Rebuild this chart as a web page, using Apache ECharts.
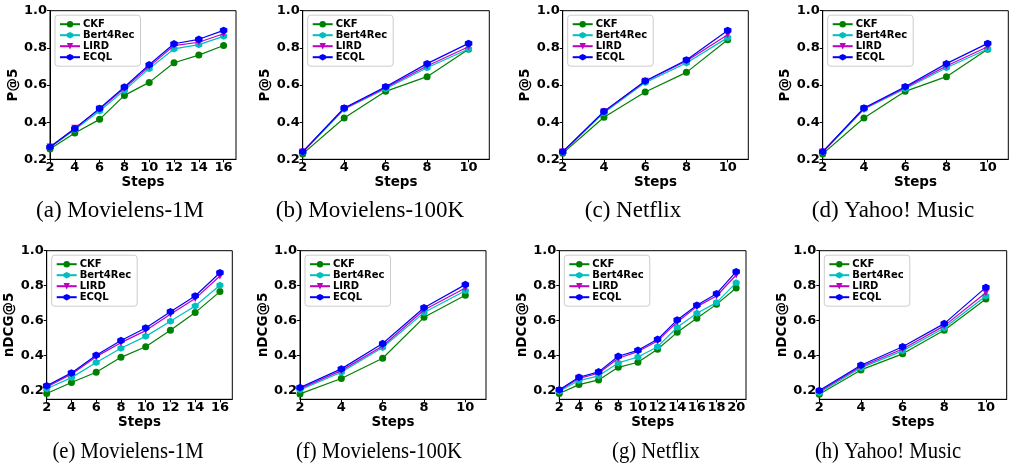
<!DOCTYPE html>
<html>
<head>
<meta charset="utf-8">
<script src="https://cdn.jsdelivr.net/npm/echarts@6.0.0/dist/echarts.min.js"></script>
<style>
  html, body { margin: 0; padding: 0; background: #fff; }
  #chart { width: 1009px; height: 465px; }
</style>
</head>
<body>
<div id="chart"></div>
<script>
// method names and x steps
const methods = ["CKF", "Bert4Rec", "LIRD", "ECQL"];
const steps16 = [2, 4, 6, 8, 10, 12, 14, 16];
const steps10 = [2, 4, 6, 8, 10];
const steps20 = [2, 4, 6, 8, 10, 12, 14, 16, 18, 20];
const yTicksTop = [0.2, 0.4, 0.6, 0.8, 1.0];
const yTicksBottom = [0.2, 0.4, 0.6, 0.8, 1.0];

// P@5, rows: CKF, Bert4Rec, LIRD, ECQL
const p5Ml1m = [
  [0.256, 0.342, 0.415, 0.544, 0.614, 0.720, 0.761, 0.813],
  [0.263, 0.361, 0.460, 0.571, 0.688, 0.794, 0.817, 0.862],
  [0.266, 0.367, 0.471, 0.582, 0.699, 0.812, 0.830, 0.876],
  [0.266, 0.365, 0.474, 0.589, 0.709, 0.822, 0.846, 0.894]
];
const p5Ml100k = [
  [0.229, 0.422, 0.566, 0.645, 0.792],
  [0.238, 0.469, 0.580, 0.693, 0.794],
  [0.239, 0.473, 0.586, 0.702, 0.806],
  [0.241, 0.476, 0.591, 0.715, 0.824]
];
const p5Netflix = [
  [0.232, 0.426, 0.562, 0.668, 0.844],
  [0.238, 0.451, 0.613, 0.718, 0.855],
  [0.239, 0.456, 0.620, 0.729, 0.871],
  [0.241, 0.458, 0.622, 0.735, 0.894]
];
const p5Yahoo = [
  [0.229, 0.422, 0.566, 0.645, 0.792],
  [0.238, 0.469, 0.580, 0.693, 0.794],
  [0.239, 0.473, 0.586, 0.702, 0.806],
  [0.241, 0.476, 0.591, 0.715, 0.824]
];

// nDCG@5
const ndcgMl1m = [
  [0.183, 0.246, 0.305, 0.390, 0.451, 0.545, 0.646, 0.766],
  [0.210, 0.274, 0.360, 0.442, 0.510, 0.596, 0.684, 0.802],
  [0.221, 0.293, 0.394, 0.474, 0.543, 0.636, 0.726, 0.855],
  [0.227, 0.301, 0.402, 0.486, 0.558, 0.651, 0.741, 0.874]
];
const ndcgMl100k = [
  [0.181, 0.269, 0.385, 0.619, 0.745],
  [0.204, 0.305, 0.446, 0.646, 0.771],
  [0.210, 0.314, 0.455, 0.661, 0.787],
  [0.217, 0.324, 0.469, 0.674, 0.806]
];
const ndcgNetflix = [
  [0.183, 0.234, 0.261, 0.333, 0.362, 0.436, 0.533, 0.613, 0.693, 0.787],
  [0.196, 0.257, 0.284, 0.358, 0.392, 0.451, 0.562, 0.642, 0.703, 0.817],
  [0.200, 0.270, 0.299, 0.385, 0.423, 0.484, 0.592, 0.680, 0.741, 0.861],
  [0.204, 0.276, 0.307, 0.396, 0.430, 0.493, 0.604, 0.688, 0.754, 0.880]
];
const ndcgYahoo = [
  [0.179, 0.318, 0.410, 0.545, 0.724],
  [0.187, 0.330, 0.427, 0.558, 0.741],
  [0.194, 0.337, 0.438, 0.570, 0.760],
  [0.200, 0.345, 0.451, 0.583, 0.790]
];

const captions = [
  "(a) Movielens-1M", "(b) Movielens-100K", "(c) Netflix", "(d) Yahoo! Music",
  "(e) Movielens-1M", "(f) Movielens-100K", "(g) Netflix", "(h) Yahoo! Music"
];

const panels = [
  { steps: steps16, data: p5Ml1m, metric: "P@5" },
  { steps: steps10, data: p5Ml100k, metric: "P@5" },
  { steps: steps10, data: p5Netflix, metric: "P@5" },
  { steps: steps10, data: p5Yahoo, metric: "P@5" },
  { steps: steps16, data: ndcgMl1m, metric: "nDCG@5" },
  { steps: steps10, data: ndcgMl100k, metric: "nDCG@5" },
  { steps: steps20, data: ndcgNetflix, metric: "nDCG@5" },
  { steps: steps10, data: ndcgYahoo, metric: "nDCG@5" }
];

// layout (pixels)
const gridLeft = [50, 302.7, 562.7, 822.7, 46.7, 300, 559.3, 819.3];
const gridRight = [236, 489.3, 748.3, 1008.3, 232.3, 486, 746, 1006.7];
const rowTop = [10.7, 250.7];
const plotH = 148.6;
const captionX = [120, 370, 633, 893, 128, 379, 656, 888];
const captionY = [211, 452];

const colors = ["#008000", "#00bfbf", "#bf00bf", "#0000ff"];
const hexagon = "path://M0,-1L0.866,-0.5L0.866,0.5L0,1L-0.866,0.5L-0.866,-0.5Z";
const symbols = ["circle", hexagon, "triangle", hexagon];
const symbolSizes = [7, 7, 7, 7.5];
const symbolRotate = [0, 0, 180, 0];

const tickFont = { fontFamily: "DejaVu Sans", fontWeight: "bold", fontSize: 13, color: "#000" };
const nameFont = { fontFamily: "DejaVu Sans", fontWeight: "bold", fontSize: 13.5, color: "#000" };

const grids = [], xAxes = [], yAxes = [], legends = [], series = [], graphics = [];

panels.forEach((p, i) => {
  const row = i < 4 ? 0 : 1;
  const lastStep = p.steps[p.steps.length - 1];
  grids.push({
    left: gridLeft[i], top: rowTop[row],
    width: gridRight[i] - gridLeft[i], height: plotH,
    show: true, borderColor: "#000", borderWidth: 1, backgroundColor: "transparent"
  });
  xAxes.push({
    type: "value", gridIndex: i, min: 2, max: lastStep + 1,
    name: "Steps", nameLocation: "middle", nameGap: 16, nameTextStyle: nameFont,
    axisLine: { lineStyle: { color: "#000", width: 1 } },
    axisTick: { show: true, length: 3, lineStyle: { color: "#000" }, customValues: p.steps },
    axisLabel: Object.assign({ margin: 2, customValues: p.steps }, tickFont),
    splitLine: { show: false }
  });
  const yt = row === 0 ? yTicksTop : yTicksBottom;
  yAxes.push({
    type: "value", gridIndex: i, min: row === 0 ? 0.2 : 0.15, max: 1.0,
    name: p.metric, nameLocation: "middle", nameGap: row === 0 ? 26 : 25, nameTextStyle: nameFont,
    axisLine: { show: true, lineStyle: { color: "#000", width: 1 } },
    axisTick: { show: true, length: 3, lineStyle: { color: "#000" }, customValues: yt },
    axisLabel: Object.assign({ margin: 3, customValues: yt, formatter: v => v.toFixed(1) }, tickFont),
    splitLine: { show: false }
  });
  legends.push({
    data: methods, orient: "vertical",
    left: gridLeft[i] + 5, top: rowTop[row] + 4.5,
    itemWidth: 20, itemHeight: 8, itemGap: 1,
    padding: [4, 6, 4, 4],
    backgroundColor: "#fff", borderColor: "#cccccc", borderWidth: 1, borderRadius: 3,
    textStyle: { fontFamily: "DejaVu Sans", fontWeight: "bold", fontSize: 10, color: "#000", lineHeight: 10, padding: [0, 0, 0, -2] },
    selectedMode: false
  });
  methods.forEach((m, k) => {
    series.push({
      name: m, type: "line", xAxisIndex: i, yAxisIndex: i,
      data: p.steps.map((s, j) => [s, p.data[k][j]]),
      symbol: symbols[k], symbolSize: symbolSizes[k], symbolRotate: symbolRotate[k],
      showAllSymbol: true,
      lineStyle: { color: colors[k], width: 1.2 },
      itemStyle: { color: colors[k], borderWidth: 0 },
      emphasis: { disabled: true },
      animation: false, z: 2 + k
    });
  });
  graphics.push({
    type: "text", x: captionX[i], y: captionY[row],
    scaleX: row === 0 ? 1 : 0.9,
    style: {
      text: captions[i], x: 0, y: 0, align: "center", verticalAlign: "middle",
      font: "23px 'Liberation Serif'", fill: "#000"
    }
  });
});

const chart = echarts.init(document.getElementById("chart"), null, { renderer: "canvas" });
chart.setOption({
  animation: false,
  backgroundColor: "#fff",
  grid: grids,
  xAxis: xAxes,
  yAxis: yAxes,
  legend: legends,
  series: series,
  graphic: graphics
});
</script>
</body>
</html>
